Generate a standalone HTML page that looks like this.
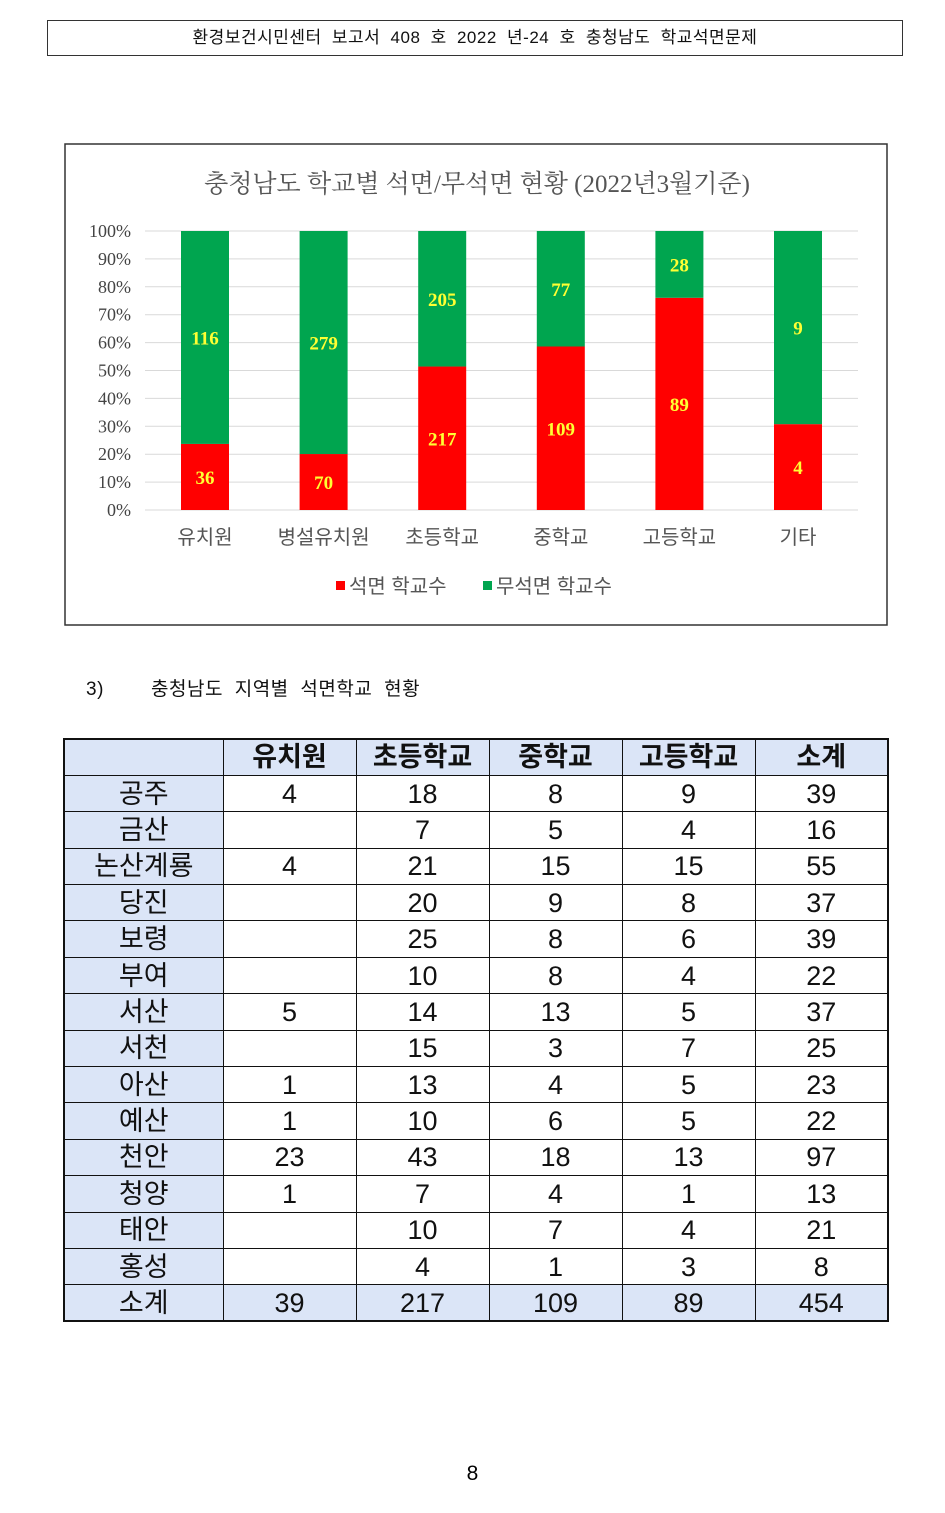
<!DOCTYPE html>
<html><head><meta charset="utf-8">
<style>
body{margin:0;width:945px;height:1513px;background:#fff;position:relative;font-family:"Liberation Sans","Noto Sans CJK KR",sans-serif;overflow:hidden}
#hdr{position:absolute;left:47px;top:20px;width:856px;height:36px;border:1.5px solid #333;box-sizing:border-box;text-align:center;font-size:17px;line-height:34px;color:#111;word-spacing:5px;letter-spacing:0.5px}
#sec{position:absolute;left:86px;top:674px;font-size:19px;color:#111;word-spacing:6px;letter-spacing:0.5px}
#pg{position:absolute;left:0;width:945px;top:1462px;text-align:center;font-size:21px}
table{position:absolute;left:63px;top:738px;border-collapse:collapse;border:2.5px solid #111;table-layout:fixed;width:825px}
td{border:1.5px solid #111;height:36.4px;box-sizing:border-box;padding:0;text-align:center;font-size:27px;line-height:30px;color:#111;overflow:hidden;white-space:nowrap}
tr:first-child td,td:first-child,tr:last-child td{background:#dbe5f7}
</style></head><body>
<div id="hdr">환경보건시민센터 보고서 408 호 2022 년-24 호 충청남도 학교석면문제</div>
<svg id="chart" width="945" height="640" style="position:absolute;left:0;top:0"></svg>
<div id="sec">3)&nbsp;&nbsp;&nbsp; 충청남도 지역별 석면학교 현황</div>
<table id="tbl"></table>
<div id="pg">8</div>
<script>
const categories=["유치원","병설유치원","초등학교","중학교","고등학교","기타"];
const asbestos=[36,70,217,109,89,4];
const noAsbestos=[116,279,205,77,28,9];
const yTicks=[0,10,20,30,40,50,60,70,80,90,100];
const NS="http://www.w3.org/2000/svg";
const svg=document.getElementById('chart');
function mk(t,a,txt){const e=document.createElementNS(NS,t);for(const k in a)e.setAttribute(k,a[k]);if(txt!==undefined)e.textContent=txt;svg.appendChild(e);return e;}
const y0=510,y1=231,xL=145,xR=858;
const yS=p=>y0-(y0-y1)*p/100;
const xS=i=>205+i*118.6;
let e=mk('rect',{x:65,y:144,width:822,height:481,fill:'#fff',stroke:'#333','stroke-width':1.5});

e=mk('text',{x:477,y:192,'text-anchor':'middle','font-size':25,fill:'#555','font-family':'Liberation Serif, Noto Serif CJK SC, serif'},'충청남도 학교별 석면/무석면 현황 (2022년3월기준)');

yTicks.forEach(t=>{
 const g=mk('line',{x1:xL,x2:xR,y1:yS(t),y2:yS(t),stroke:'#d9d9d9','stroke-width':1});
 
 const l=mk('text',{x:131,y:yS(t)+6,'text-anchor':'end','font-size':18,fill:'#444','font-family':'Liberation Serif, serif'},t+'%');
 
});
categories.forEach((c,i)=>{
 const tot=asbestos[i]+noAsbestos[i];const pr=asbestos[i]/tot*100;const x=xS(i)-24;
 const r=mk('rect',{x:x,y:yS(pr),width:48,height:y0-yS(pr),fill:'#ff0000'});
 
 const g=mk('rect',{x:x,y:yS(100),width:48,height:yS(pr)-yS(100),fill:'#00a54f'});
 
 const a=mk('text',{x:xS(i),y:(yS(pr)+y0)/2+7,'text-anchor':'middle','font-size':19,'font-weight':'bold',fill:'#ffff33','font-family':'Liberation Serif, serif'},asbestos[i]);
 
 const b=mk('text',{x:xS(i),y:(yS(pr)+y1)/2+7,'text-anchor':'middle','font-size':19,'font-weight':'bold',fill:'#ffff33','font-family':'Liberation Serif, serif'},noAsbestos[i]);
 
 const cl=mk('text',{x:xS(i),y:544,'text-anchor':'middle','font-size':20,fill:'#555'},c);
 
});
e=mk('rect',{x:336,y:581,width:9,height:9,fill:'#ff0000'});
e=mk('text',{x:349,y:593,'font-size':20,fill:'#555'},'석면 학교수');
e=mk('rect',{x:483,y:581,width:9,height:9,fill:'#00a54f'});
e=mk('text',{x:496,y:593,'font-size':20,fill:'#555'},'무석면 학교수');

const rows=[["","유치원","초등학교","중학교","고등학교","소계"],
["공주","4","18","8","9","39"],["금산","","7","5","4","16"],["논산계룡","4","21","15","15","55"],
["당진","","20","9","8","37"],["보령","","25","8","6","39"],["부여","","10","8","4","22"],
["서산","5","14","13","5","37"],["서천","","15","3","7","25"],["아산","1","13","4","5","23"],
["예산","1","10","6","5","22"],["천안","23","43","18","13","97"],["청양","1","7","4","1","13"],
["태안","","10","7","4","21"],["홍성","","4","1","3","8"],["소계","39","217","109","89","454"]];
const widths=[159,133,133,133,133,133];
const tb=document.getElementById('tbl');
rows.forEach((r,ri)=>{const tr=document.createElement('tr');
 
 
 r.forEach((v,ci)=>{const td=document.createElement('td');td.textContent=v;td.style.width=widths[ci]+'px';
 if(ri==0)td.style.fontWeight='bold';
 
 
 tr.appendChild(td);});tb.appendChild(tr);});
</script>
</body></html>
